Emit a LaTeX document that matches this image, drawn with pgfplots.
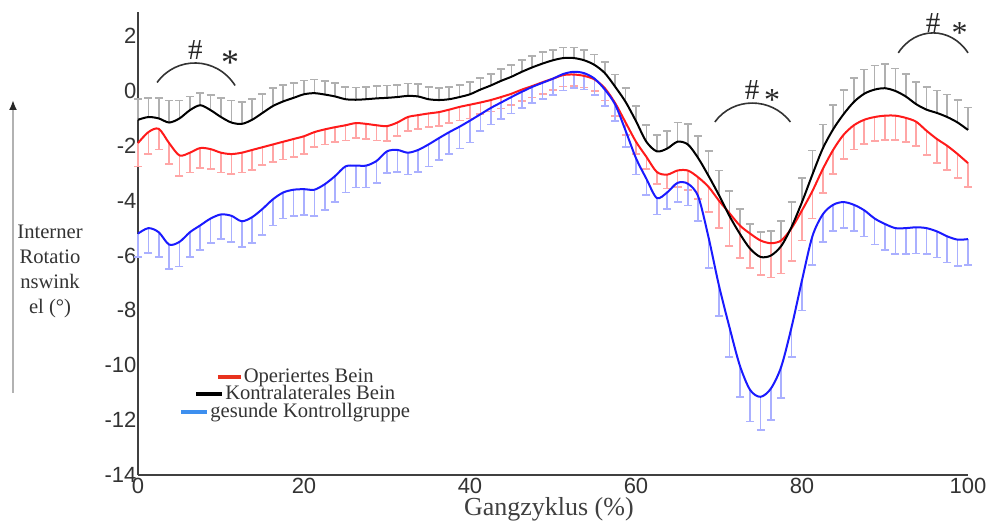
\documentclass[border=0pt]{standalone}
\usepackage{pgfplots}
\pgfplotsset{compat=1.18}
\usepackage{pgfplotstable}
\usepackage{fontspec}
\setmainfont{Liberation Serif}
\setsansfont{Liberation Sans}
\usetikzlibrary{arrows.meta}
\definecolor{lred}{HTML}{FF1A1A}
\definecolor{lblue}{HTML}{1A1AFF}
\definecolor{ered}{HTML}{FFA6A6}
\definecolor{eblue}{HTML}{AAB0FF}
\definecolor{egray}{HTML}{B0B0B0}
\definecolor{legred}{HTML}{E8321E}
\definecolor{legblue}{HTML}{3D8FEF}
\pgfplotstableread{
x      k     ke    r     re    g      ge
0     -1.05 0.75 -1.90 0.85 -5.20 0.85
1.25  -0.95 0.70 -1.50 0.80 -5.00 0.90
2.5   -1.00 0.75 -1.38 0.75 -5.15 0.90
3.75  -1.15 0.80 -1.90 0.75 -5.60 0.90
5     -1.00 0.65 -2.35 0.75 -5.50 0.90
6.25  -0.70 0.50 -2.25 0.72 -5.15 0.90
7.5   -0.52 0.45 -2.08 0.72 -4.90 0.90
8.75  -0.70 0.55 -2.12 0.72 -4.65 0.90
10    -0.95 0.70 -2.25 0.72 -4.50 0.90
11.25 -1.15 0.80 -2.30 0.72 -4.55 0.95
12.5  -1.20 0.80 -2.25 0.72 -4.75 0.95
13.75 -1.05 0.75 -2.15 0.72 -4.60 0.95
15    -0.80 0.70 -2.05 0.65 -4.30 0.95
16.25 -0.55 0.65 -1.95 0.65 -3.95 0.95
17.5  -0.38 0.60 -1.85 0.65 -3.70 0.95
18.75 -0.25 0.55 -1.75 0.65 -3.60 0.95
20    -0.12 0.50 -1.65 0.65 -3.58 0.95
21.25 -0.08 0.50 -1.50 0.55 -3.60 0.95
22.5  -0.13 0.50 -1.40 0.55 -3.40 0.95
23.75 -0.20 0.50 -1.32 0.55 -3.10 0.95
25    -0.30 0.45 -1.25 0.55 -2.75 0.95
26.25 -0.32 0.45 -1.17 0.55 -2.72 0.80
27.5  -0.30 0.45 -1.20 0.55 -2.72 0.80
28.75 -0.27 0.45 -1.25 0.55 -2.55 0.80
30    -0.25 0.45 -1.28 0.55 -2.20 0.80
31.25 -0.22 0.45 -1.15 0.50 -2.15 0.80
32.5  -0.18 0.45 -0.95 0.50 -2.25 0.80
33.75 -0.20 0.45 -0.88 0.50 -2.15 0.80
35    -0.30 0.45 -0.82 0.50 -1.95 0.80
36.25 -0.33 0.45 -0.77 0.50 -1.72 0.80
37.5  -0.30 0.45 -0.68 0.50 -1.50 0.80
38.75 -0.22 0.45 -0.58 0.50 -1.30 0.80
40    -0.12 0.45 -0.50 0.50 -1.08 0.80
41.25  0.05 0.42 -0.42 0.42 -0.85 0.60
42.5   0.20 0.42 -0.33 0.42 -0.62 0.60
43.75  0.37 0.42 -0.22 0.42 -0.42 0.60
45     0.52 0.42 -0.10 0.42 -0.22 0.60
46.25  0.70 0.42  0.05 0.42 -0.03 0.60
47.5   0.86 0.42  0.18 0.42  0.15 0.60
48.75  1.00 0.42  0.32 0.42  0.30 0.60
50     1.12 0.38  0.45 0.42  0.45 0.60
51.25  1.20 0.38  0.58 0.42  0.62 0.60
52.5   1.20 0.38  0.60 0.42  0.70 0.60
53.75  1.12 0.38  0.55 0.42  0.65 0.60
55     0.95 0.38  0.42 0.42  0.45 0.60
56.25  0.65 0.40  0.10 0.45  0.05 0.60
57.5   0.15 0.45 -0.45 0.45 -0.50 0.60
58.75 -0.40 0.50 -1.15 0.45 -1.45 0.60
60    -1.10 0.55 -1.85 0.45 -2.45 0.60
61.25 -1.85 0.60 -2.40 0.45 -3.20 0.60
62.5  -2.20 0.60 -2.95 0.45 -3.90 0.60
63.75 -2.10 0.65 -3.05 0.50 -3.70 0.60
65    -1.85 0.70 -2.90 0.60 -3.35 0.70
66.25 -1.95 0.75 -2.90 0.70 -3.38 0.80
67.5  -2.45 0.80 -3.15 0.80 -3.85 0.90
68.75 -3.10 0.90 -3.50 0.90 -5.35 1.10
70    -3.80 0.90 -4.00 1.00 -7.10 1.10
71.25 -4.55 0.90 -4.45 1.20 -8.60 1.10
72.5  -5.20 0.90 -4.90 1.20 -10.00 1.15
73.75 -5.75 0.90 -5.20 1.25 -10.90 1.15
75    -6.05 0.90 -5.45 1.25 -11.15 1.20
76.25 -6.00 0.90 -5.55 1.25 -10.85 1.15
77.5  -5.65 0.90 -5.45 1.20 -10.05 1.15
78.75 -4.95 0.90 -5.00 1.20 -8.60 1.10
80    -4.05 0.88 -4.35 1.10 -6.90 1.10
81.25 -3.05 0.88 -3.65 1.00 -5.30 1.05
82.5  -2.10 0.88 -2.85 0.88 -4.50 1.00
83.75 -1.40 0.88 -2.15 0.88 -4.15 0.95
85    -0.85 0.88 -1.60 0.88 -4.05 0.95
86.25 -0.40 0.88 -1.25 0.88 -4.15 0.95
87.5  -0.10 0.88 -1.05 0.88 -4.35 0.95
88.75  0.05 0.88 -0.95 0.88 -4.65 0.95
90     0.10 0.88 -0.90 0.88 -4.85 0.95
91.25  0.00 0.82 -0.90 0.88 -5.00 0.95
92.5  -0.20 0.82 -0.98 0.88 -5.00 0.95
93.75 -0.48 0.82 -1.12 0.88 -4.97 0.95
95    -0.68 0.82 -1.45 0.88 -5.00 0.95
96.25 -0.80 0.82 -1.75 0.88 -5.12 0.95
97.5  -0.95 0.82 -2.00 0.88 -5.30 0.95
98.75 -1.15 0.82 -2.30 0.88 -5.42 0.95
100   -1.42 0.82 -2.63 0.88 -5.40 0.95
}\data
\begin{document}
\begin{tikzpicture}
\useasboundingbox (0,0) rectangle (496pt,261pt);
\draw[black!30, line width=1pt, -{Latex[color=black!85, length=5pt, width=4pt]}] (6.5pt,64.5pt) -- (6.5pt,211pt);
\begin{axis}[
  at={(69pt,23.5pt)}, anchor=south west,
  scale only axis, width=415pt, height=231.5pt,
  xmin=0, xmax=100, ymin=-14, ymax=2.88,
  axis x line*=bottom, axis y line*=left,
  axis line style={draw=black!75, line width=1pt},
  major tick length=0pt,
  xtick={0,20,...,100}, ytick={-14,-12,...,2},
  /pgf/number format/assume math mode=true,
  tick label style={font=\sffamily\fontsize{11}{13}\selectfont, text=black!80},
  yticklabel style={inner xsep=0.6pt},
  xticklabel style={inner ysep=1.5pt},
  xlabel={Gangzyklus (\%)},
  xlabel style={at={(axis description cs:0.495,-0.073)}, anchor=center, font=\fontsize{13}{14}\selectfont, text=black!75},
  ylabel={Interner\\Rotatio\\nswink\\el (°)},
  ylabel style={at={(axis description cs:-0.106,0.44)}, anchor=center, rotate=-90, align=center, font=\fontsize{10.3}{12.5}\selectfont, text=black!80},
  clip=false,
]
% error bars
\addplot[draw=none, forget plot, error bars/.cd, y dir=plus, y explicit,
  error bar style={draw=egray, line width=0.85pt},
  error mark options={draw=egray, rotate=90, mark size=2pt, line width=0.85pt}]
  table[x=x, y=k, y error=ke] {\data};
\addplot[draw=none, forget plot, error bars/.cd, y dir=minus, y explicit,
  error bar style={draw=ered, line width=0.85pt},
  error mark options={draw=ered, rotate=90, mark size=2pt, line width=0.85pt}]
  table[x=x, y=r, y error=re] {\data};
\addplot[draw=none, forget plot, error bars/.cd, y dir=minus, y explicit,
  error bar style={draw=eblue, line width=0.85pt},
  error mark options={draw=eblue, rotate=90, mark size=2pt, line width=0.85pt}]
  table[x=x, y=g, y error=ge] {\data};
% mean lines
\addplot[lred, line width=1pt, smooth, tension=0.5, mark=none] table[x=x, y=r] {\data};
\addplot[black, line width=1pt, smooth, tension=0.5, mark=none] table[x=x, y=k] {\data};
\addplot[lblue, line width=1pt, smooth, tension=0.5, mark=none] table[x=x, y=g] {\data};
% significance annotations
\draw[black!80, line width=0.8pt] (axis cs:2.3,0.31) .. controls (axis cs:4.6,1.275) and (axis cs:9.4,1.275) .. (axis cs:11.7,0.2);
\draw[black!80, line width=0.8pt] (axis cs:69.5,-1.13) .. controls (axis cs:71.7,-0.21) and (axis cs:76.3,-0.21) .. (axis cs:78.6,-1.13);
\draw[black!80, line width=0.8pt] (axis cs:91.6,1.39) .. controls (axis cs:93.7,2.36) and (axis cs:97.9,2.36) .. (axis cs:100,1.39);
\node[anchor=base, yshift=-4.9pt, font=\fontsize{14.5}{16}\selectfont, text=black!85] at (axis cs:6.9,1.52) {\#};
\node[anchor=base, yshift=-9pt, font=\fontsize{18}{20}\selectfont, text=black!85] at (axis cs:11.1,1.26) {*};
\node[anchor=base, yshift=-4.9pt, font=\fontsize{14.5}{16}\selectfont, text=black!85] at (axis cs:74.0,0.05) {\#};
\node[anchor=base, yshift=-8pt, font=\fontsize{16}{18}\selectfont, text=black!85] at (axis cs:76.4,-0.13) {*};
\node[anchor=base, yshift=-4.9pt, font=\fontsize{14.5}{16}\selectfont, text=black!85] at (axis cs:95.8,2.5) {\#};
\node[anchor=base, yshift=-8pt, font=\fontsize{16}{18}\selectfont, text=black!85] at (axis cs:99.0,2.3) {*};
% legend
\node[anchor=base, inner sep=0pt, font=\fontsize{10.3}{12}\selectfont, text=black!80] at (axis cs:19.0,-10.64) {\textcolor{legred}{\rule[2pt]{11.5pt}{2pt}}\hspace{1.5pt}Operiertes Bein};
\node[anchor=base, inner sep=0pt, font=\fontsize{10.3}{12}\selectfont, text=black!80] at (axis cs:19.0,-11.26) {\textcolor{black}{\rule[2pt]{13pt}{2pt}}\hspace{1.5pt}Kontralaterales Bein};
\node[anchor=base, inner sep=0pt, font=\fontsize{10.3}{12}\selectfont, text=black!80] at (axis cs:19.0,-11.92) {\textcolor{legblue}{\rule[2pt]{13pt}{2pt}}\hspace{1.5pt}gesunde Kontrollgruppe};
\end{axis}
\end{tikzpicture}
\end{document}
